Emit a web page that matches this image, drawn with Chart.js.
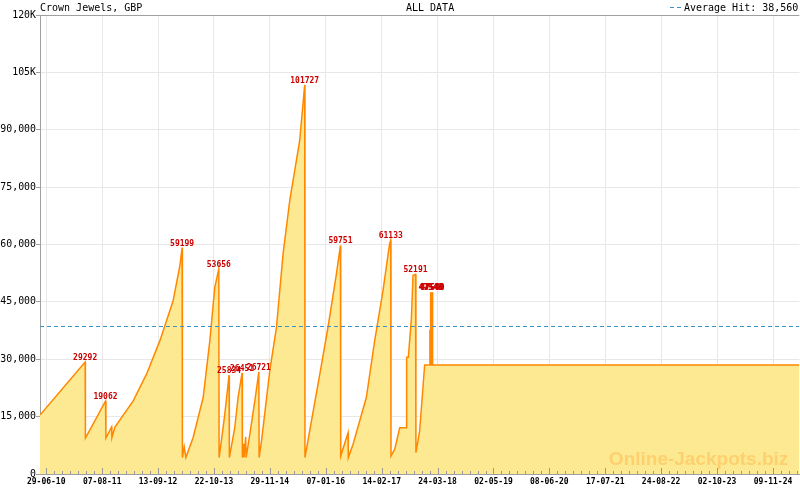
<!DOCTYPE html>
<html>
<head>
<meta charset="utf-8">
<script src="https://cdn.jsdelivr.net/npm/chart.js@4"></script>
<style>
  html, body { margin: 0; padding: 0; background: #fff; }
  canvas { display: block; }
</style>
</head>
<body>
<canvas id="chart" width="800" height="490"></canvas>
<script>
// Jackpot history
const dates = [
  '2010-05-15', '2011-04-06', '2011-04-08', '2011-08-31', '2011-09-03', '2011-10-14', '2011-10-16', '2011-11-07',
  '2012-03-18', '2012-06-22', '2012-09-26', '2012-12-31', '2013-02-18', '2013-03-06', '2013-03-08', '2013-03-21', '2013-04-02',
  '2013-05-24', '2013-08-05', '2013-09-22', '2013-10-28', '2013-11-26', '2013-11-28', '2013-12-08', '2014-01-08', '2014-02-08', '2014-02-10',
  '2014-03-21', '2014-04-14', '2014-05-13', '2014-05-15', '2014-05-25', '2014-05-27', '2014-06-08', '2014-06-11',
  '2014-07-08', '2014-08-13', '2014-09-11', '2014-09-13', '2014-09-30', '2014-11-29', '2015-01-16', '2015-03-05', '2015-04-22', '2015-07-03', '2015-08-08', '2015-08-10',
  '2015-09-13', '2015-11-25', '2016-01-23', '2016-03-24', '2016-04-22', '2016-04-24', '2016-06-16', '2016-06-18',
  '2016-07-22', '2016-10-26', '2016-12-25', '2017-02-23', '2017-04-12', '2017-04-20', '2017-04-22',
  '2017-05-19', '2017-06-24', '2017-08-11', '2017-08-13', '2017-08-25', '2017-09-16', '2017-09-28', '2017-10-16', '2017-10-19',
  '2017-11-15', '2017-12-21',
  '2018-01-27', '2018-01-28', '2018-01-29', '2018-02-01', '2018-02-03', '2018-02-06', '2018-02-08', '2018-02-11', '2018-02-13', '2018-02-16', '2018-02-17',
  '2025-05-18'
];
const values = [
  15400, 29292, 9400, 19062, 9400, 12300, 9500, 12300,
  19100, 26100, 34800, 45300, 54500, 59199, 4300, 7100, 4300,
  9500, 20000, 34800, 48800, 53656, 4300, 6900, 15600, 25834, 4300,
  12100, 20000, 26451, 4300, 7900, 4300, 9700, 4300,
  10400, 19100, 26721, 4300, 8600, 27000, 38300, 57600, 71500, 87200, 101727, 4300,
  11300, 26100, 38300, 52300, 59751, 4700, 10800, 4300,
  7800, 20000, 34800, 47900, 60200, 61133, 4700,
  6500, 12100, 12100, 30500, 30500, 40500, 51900, 52191, 5600,
  11300, 28500,
  28500, 37700, 28500, 47548, 28500, 47546, 28500, 47548, 28500, 47540, 28500,
  28500
];
// hits that carry a red value label
const peakValues = [29292, 19062, 59199, 53656, 25834, 26451, 26721, 101727, 59751, 61133, 52191, 47548, 47546, 47540];
const avgHit = 38560;
const xStart = '2010-05-15';
const xEnd = '2025-05-18';
const tickLabels = ['29-06-10', '07-08-11', '13-09-12', '22-10-13', '29-11-14', '07-01-16', '14-02-17',
  '24-03-18', '02-05-19', '08-06-20', '17-07-21', '24-08-22', '02-10-23', '09-11-24'];
const yTicks = [0, 15000, 30000, 45000, 60000, 75000, 90000, 105000, 120000];

const DAY = 86400000;
function isoToDay(s) {
  const [y, m, d] = s.split('-').map(Number);
  return Date.UTC(y, m - 1, d) / DAY;
}
function labelToDay(s) {
  const [d, m, y] = s.split('-').map(Number);
  return Date.UTC(2000 + y, m - 1, d) / DAY;
}

const xMin = isoToDay(xStart);
const xMax = isoToDay(xEnd);
const majorDays = tickLabels.map(labelToDay);
const labelByDay = new Map(majorDays.map((d, i) => [d, tickLabels[i]]));

// 7 sub-steps between two dated ticks
function buildXTicks() {
  const step = (majorDays[1] - majorDays[0]) / 7;
  const out = [];
  for (let v = majorDays[0] - step; v > xMin; v -= step) out.unshift({ value: v });
  majorDays.forEach((d, i) => {
    out.push({ value: d, major: true });
    const next = i < majorDays.length - 1 ? majorDays[i + 1] : xMax;
    const s = i < majorDays.length - 1 ? (next - d) / 7 : step;
    for (let k = 1; k < 7; k++) {
      const v = d + s * k;
      if (v < xMax) out.push({ value: v });
    }
  });
  return out;
}

const seriesData = dates.map((d, i) => ({ x: isoToDay(d), y: values[i] }));
const avgData = [{ x: xMin, y: avgHit }, { x: xMax, y: avgHit }];

const MONO = '"DejaVu Sans Mono", "Liberation Mono", monospace';
const AXIS_GREY = '#a0a0a0';
const AVG_BLUE = '#3a94c8';

const decorations = {
  id: 'decorations',
  afterDatasetsDraw(chart) {
    const { ctx, chartArea: a } = chart;
    const xs = chart.scales.x;
    ctx.save();

    // watermark
    ctx.font = 'bold 19px "Liberation Sans", Arial, sans-serif';
    ctx.fillStyle = 'rgba(255,175,60,0.42)';
    ctx.textAlign = 'right';
    ctx.textBaseline = 'alphabetic';
    ctx.fillText('Online-Jackpots.biz', a.right - 11, a.bottom - 9);

    // x tick marks point into the plot
    ctx.strokeStyle = '#999';
    ctx.lineWidth = 1;
    xs.ticks.forEach(t => {
      const px = Math.round(xs.getPixelForValue(t.value)) + 0.5;
      const len = t.major ? 6 : 3;
      ctx.beginPath();
      ctx.moveTo(px, a.bottom);
      ctx.lineTo(px, a.bottom - len);
      ctx.stroke();
    });

    // top frame line
    ctx.strokeStyle = AXIS_GREY;
    ctx.beginPath();
    ctx.moveTo(a.left, a.top + 0.5);
    ctx.lineTo(a.right, a.top + 0.5);
    ctx.stroke();

    // value labels above the hits
    const meta = chart.getDatasetMeta(1);
    ctx.font = 'bold 8px ' + MONO;
    ctx.fillStyle = '#cc0000';
    ctx.textAlign = 'center';
    meta.data.forEach((pt, i) => {
      if (peakValues.includes(values[i])) {
        ctx.fillText(String(values[i]), pt.x, pt.y - 2);
      }
    });

    // header row
    ctx.font = '10px ' + MONO;
    ctx.fillStyle = '#000';
    ctx.textAlign = 'left';
    ctx.fillText('Crown Jewels, GBP', a.left, 11);
    ctx.fillText('ALL DATA', 406, 11);
    ctx.textAlign = 'right';
    ctx.fillText('Average Hit: ' + avgHit.toLocaleString('en-US'), a.right - 1, 11);
    ctx.strokeStyle = AVG_BLUE;
    ctx.beginPath();
    ctx.moveTo(670, 7.5); ctx.lineTo(674, 7.5);
    ctx.moveTo(677, 7.5); ctx.lineTo(681, 7.5);
    ctx.stroke();

    ctx.restore();
  }
};

new Chart(document.getElementById('chart'), {
  type: 'line',
  data: {
    datasets: [
      {
        label: 'Average Hit',
        data: avgData,
        borderColor: AVG_BLUE,
        borderWidth: 1,
        borderDash: [4, 3],
        pointRadius: 0,
        fill: false,
      },
      {
        label: 'Crown Jewels',
        data: seriesData,
        borderColor: '#ff8800',
        backgroundColor: '#fde992',
        borderWidth: 1.5,
        pointRadius: 0,
        tension: 0,
        fill: 'origin',
      }
    ]
  },
  options: {
    responsive: false,
    animation: false,
    layout: { padding: { top: 15, left: 0, right: 0, bottom: 0 } },
    plugins: {
      legend: { display: false },
      tooltip: { enabled: false },
    },
    scales: {
      x: {
        type: 'linear',
        min: xMin,
        max: xMax,
        afterBuildTicks: (scale) => { scale.ticks = buildXTicks(); },
        afterFit: (scale) => { scale.height = 16; },
        border: { display: true, color: AXIS_GREY },
        grid: {
          drawTicks: false,
          color: (c) => (c.tick && labelByDay.has(c.tick.value)) ? '#e8e8e8' : 'rgba(0,0,0,0)',
        },
        ticks: {
          autoSkip: false,
          maxRotation: 0,
          padding: 3,
          color: '#000',
          font: { family: MONO, size: 8, weight: 'bold' },
          callback: (v) => labelByDay.get(v) || '',
        },
      },
      y: {
        min: 0,
        max: 120000,
        afterBuildTicks: (scale) => { scale.ticks = yTicks.map(v => ({ value: v })); },
        afterFit: (scale) => { scale.width = 40; },
        border: { display: true, color: AXIS_GREY },
        grid: { color: '#e8e8e8', tickLength: 4, tickColor: AXIS_GREY },
        ticks: {
          padding: 0,
          color: '#000',
          font: { family: MONO, size: 9.9 },
          callback: (v) => v >= 100000 ? (v / 1000) + 'K' : v.toLocaleString('en-US'),
        },
      },
    },
  },
  plugins: [decorations],
});
</script>
</body>
</html>
